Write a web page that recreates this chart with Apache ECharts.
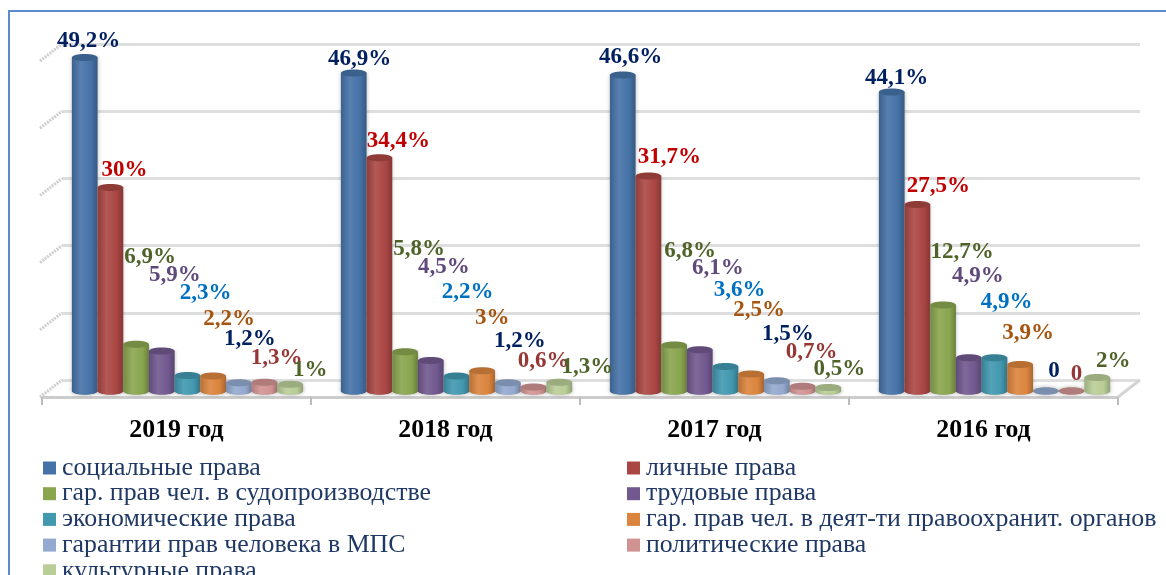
<!DOCTYPE html>
<html>
<head>
<meta charset="utf-8">
<title>Права</title>
<style>
  html, body { margin: 0; padding: 0; background: #fff; overflow: hidden; }
  #chart { width: 1166px; height: 575px; }
</style>
<script src="https://cdn.jsdelivr.net/npm/echarts@6/dist/echarts.min.js"></script>
</head>
<body>
<div id="chart"></div>
<script>
// chart values
var categories = ['2019 год', '2018 год', '2017 год', '2016 год'];
var seriesNames = [
  'социальные права',
  'личные права',
  'гар. прав чел. в судопроизводстве',
  'трудовые права',
  'экономические права',
  'гар. прав чел. в деят-ти правоохранит. органов',
  'гарантии прав человека в МПС',
  'политические права',
  'культурные права'
];
var socialRights = [49.2, 46.9, 46.6, 44.1];
var personalRights = [30, 34.4, 31.7, 27.5];
var courtGuarantees = [6.9, 5.8, 6.8, 12.7];
var laborRights = [5.9, 4.5, 6.1, 4.9];
var economicRights = [2.3, 2.2, 3.6, 4.9];
var policeGuarantees = [2.2, 3, 2.5, 3.9];
var mpsGuarantees = [1.2, 1.2, 1.5, 0];
var politicalRights = [1.3, 0.6, 0.7, 0];
var culturalRights = [1, 1.3, 0.5, 2];
var valueTicks = [0, 10, 20, 30, 40, 50];

var allValues = [socialRights, personalRights, courtGuarantees, laborRights, economicRights,
  policeGuarantees, mpsGuarantees, politicalRights, culturalRights];

// styles
var barColors = ['#4572A7', '#AA4643', '#89A54E', '#71588F', '#4198AF', '#DB843D', '#93A9CF', '#D19392', '#B9CD96'];
var labelColors = ['#002060', '#C00000', '#4F6228', '#604A7B', '#0070C0', '#A5550F', '#002060', '#953735', '#4F6228'];

// hand placed data labels: [dx, dy] from the top of each bar, per category
var labelShift = [
  [[4, -16], [6, -14], [8, -18], [5, -14]],
  [[14, -18], [19, -17], [21, -19], [21, -18]],
  [[14, -87], [14, -103], [16, -94], [19, -53]],
  [[13, -76], [13, -93], [18, -82], [9, -82]],
  [[18, -82], [11, -84], [14, -77], [12, -56]],
  [[16, -57], [10, -53], [8, -64], [8, -31]],
  [[11, -44], [12, -42], [11, -47], [8, -20]],
  [[12, -24], [10, -26], [9, -34], [5, -17]],
  [[20, -14], [28, -15], [11, -19], [16, -16]]
];

var SERIF = '"Liberation Serif", "Times New Roman", serif';
var BAR_RATIO = 0.0955; // bar width as part of the category band
var CAP = 3.5; // half height of the cylinder ellipse

/**
 * format a value the way the labels read, e.g 49.2 => '49,2%', 0 => '0'
 * @param {number} value
 */
function formatLabel(value) {
  return value === 0 ? '0' : String(value).replace('.', ',') + '%';
}

/**
 * shade a hex colour, amount < 0 is darker, > 0 is lighter
 */
function shade(hex, amount) {
  var n = parseInt(hex.slice(1), 16);
  var parts = [(n >> 16) & 255, (n >> 8) & 255, n & 255].map(function (c) {
    var v = amount < 0 ? c * (1 + amount) : c + (255 - c) * amount;
    return Math.round(v);
  });
  return 'rgb(' + parts.join(',') + ')';
}

/**
 * render one cylinder plus its label
 */
function renderCylinder(seriesIndex, params, api) {
  var catIndex = api.value(0);
  var value = api.value(1);
  var top = api.coord([catIndex, value]);
  var base = api.coord([catIndex, 0]);
  var width = api.size([1, 0])[0] * BAR_RATIO;
  var x = top[0] + (seriesIndex - 4) * width - width / 2;
  var color = barColors[seriesIndex];
  var shift = labelShift[seriesIndex][catIndex];

  var side = {
    type: 'linear', x: 0, y: 0, x2: 1, y2: 0,
    colorStops: [
      { offset: 0, color: shade(color, -0.15) },
      { offset: 0.35, color: shade(color, 0.1) },
      { offset: 0.75, color: color },
      { offset: 1, color: shade(color, -0.22) }
    ]
  };

  var children = [];
  children.push({
    type: 'ellipse',
    shape: { cx: x + width / 2, cy: base[1], rx: width / 2, ry: CAP },
    style: { fill: shade(color, -0.1), shadowBlur: 4, shadowColor: 'rgba(90,90,90,0.5)' }
  });
  if (value > 0) {
    children.push({
      type: 'rect',
      shape: { x: x, y: top[1], width: width, height: base[1] - top[1] },
      style: { fill: side, shadowBlur: 4, shadowColor: 'rgba(90,90,90,0.4)' }
    });
    children.push({
      type: 'ellipse',
      shape: { cx: x + width / 2, cy: base[1], rx: width / 2, ry: CAP },
      style: { fill: side }
    });
  }
  children.push({
    type: 'ellipse',
    shape: { cx: x + width / 2, cy: top[1], rx: width / 2, ry: CAP },
    style: { fill: shade(color, -0.16) }
  });
  children.push({
    type: 'text',
    z2: 100,
    style: {
      x: x + width / 2 + shift[0],
      y: top[1] + shift[1],
      text: formatLabel(value),
      fill: labelColors[seriesIndex],
      font: 'bold 23px ' + SERIF,
      align: 'center',
      verticalAlign: 'middle'
    }
  });
  return { type: 'group', children: children };
}

/**
 * render the side wall ticks and the floor edge of the 3d box
 */
function renderFrame(params, api) {
  var p = api.coord([0, api.value(0)]);
  var left = params.coordSys.x;
  var right = left + params.coordSys.width;
  var children = [{
    type: 'line',
    shape: { x1: left - 22, y1: p[1] + 17, x2: left, y2: p[1] },
    style: { stroke: '#cfcfcf', lineWidth: 3, lineDash: [2, 1] }
  }];
  if (api.value(0) === 0) {
    children.push({
      type: 'line',
      shape: { x1: right - 22, y1: p[1] + 17, x2: right, y2: p[1] },
      style: { stroke: '#d4d4d4', lineWidth: 3 }
    });
  }
  return { type: 'group', children: children };
}

var series = [{
  type: 'custom',
  name: 'frame',
  xAxisIndex: 0,
  yAxisIndex: 0,
  silent: true,
  z: 1,
  renderItem: renderFrame,
  encode: { y: 0 },
  data: valueTicks.map(function (t) { return [t]; })
}];

seriesNames.forEach(function (name, i) {
  series.push({
    type: 'custom',
    name: name,
    xAxisIndex: 2,
    yAxisIndex: 2,
    z: 3,
    itemStyle: { color: barColors[i] },
    renderItem: function (params, api) { return renderCylinder(i, params, api); },
    encode: { x: 0, y: 1 },
    data: allValues[i].map(function (v, c) { return [c, v]; })
  });
});

function axisHidden(index) {
  return { gridIndex: index, type: 'category', data: categories, show: false };
}

function valueAxis(index, showLines) {
  return {
    gridIndex: index,
    type: 'value',
    min: 0,
    max: 50,
    interval: 10,
    axisLine: { show: false },
    axisTick: { show: false },
    axisLabel: { show: false },
    splitLine: {
      show: showLines,
      lineStyle: { color: '#dedede', width: 3 }
    }
  };
}

var legendBase = {
  orient: 'vertical',
  top: 455,
  height: 200,
  itemWidth: 13,
  itemHeight: 13,
  itemGap: -0.3,
  padding: 0,
  icon: 'rect',
  selectedMode: false,
  textStyle: { fontFamily: SERIF, fontSize: 25.8, color: '#1F3864', padding: [0, 0, 0, 1] }
};

var option = {
  animation: false,
  backgroundColor: '#ffffff',
  color: barColors,
  grid: [
    { left: 62, top: 44, width: 1078, height: 336 },   // back wall
    { left: 42, top: 61, width: 1076, height: 336 },   // front axis
    { left: 53, top: 52, width: 1076, height: 339 }    // bars
  ],
  xAxis: [
    axisHidden(0),
    {
      gridIndex: 1,
      type: 'category',
      data: categories,
      axisLine: { lineStyle: { color: '#cccccc', width: 3 } },
      axisTick: { show: true, length: 8, lineStyle: { color: '#bcbcbc', width: 2 } },
      axisLabel: { margin: 20, color: '#000', fontFamily: SERIF, fontWeight: 'bold', fontSize: 25.8 }
    },
    axisHidden(2)
  ],
  yAxis: [
    valueAxis(0, true),
    valueAxis(1, false),
    valueAxis(2, false)
  ],
  legend: [
    Object.assign({}, legendBase, { left: 43, data: seriesNames.filter(function (n, i) { return i % 2 === 0; }) }),
    Object.assign({}, legendBase, { left: 627, data: seriesNames.filter(function (n, i) { return i % 2 === 1; }) })
  ],
  graphic: [{
    // blue frame of the pasted picture, runs off the right and bottom edge
    type: 'rect',
    silent: true,
    shape: { x: 9, y: 11, width: 1180, height: 590 },
    style: { fill: 'none', stroke: '#5B8BC9', lineWidth: 2 }
  }],
  series: series
};

var myChart = echarts.init(document.getElementById('chart'));
myChart.setOption(option);
</script>
</body>
</html>
